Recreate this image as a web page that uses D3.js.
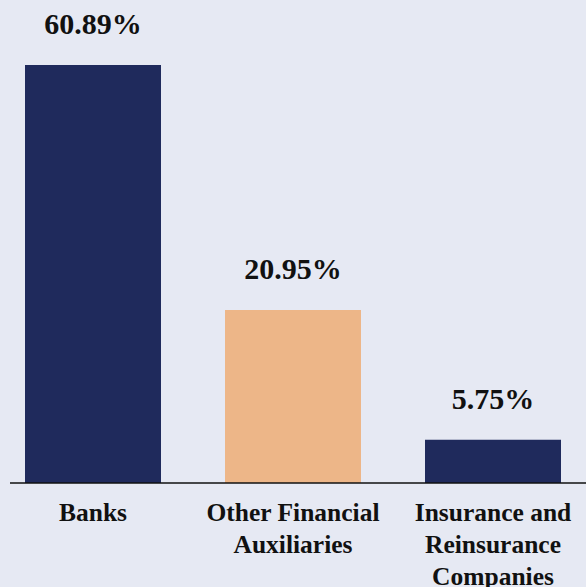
<!DOCTYPE html>
<html>
<head>
<meta charset="utf-8">
<script src="https://cdn.jsdelivr.net/npm/d3@7"></script>
<style>
  html, body { margin: 0; padding: 0; background: #e6e9f3; }
  svg { display: block; }
</style>
</head>
<body>
<svg id="chart" width="586" height="587"></svg>
<script>
// Data
const categories = ["Banks", "Other Financial Auxiliaries", "Insurance and Reinsurance Companies"];
const categoryLines = [["Banks"], ["Other Financial", "Auxiliaries"], ["Insurance and", "Reinsurance", "Companies"]];
const shareLabels = ["60.89%", "20.95%", "5.75%"];
// bar lengths as drawn in the picture (percent)
const barValues = [60.89, 25.2, 6.3];
const barColors = ["#1f2a5c", "#edb688", "#1f2a5c"];

const W = 586, H = 587;
const margin = { left: 10, right: 0, top: 65, bottom: 104 };
const baseY = H - margin.bottom;

const svg = d3.select("#chart");
svg.append("rect").attr("width", W).attr("height", H).attr("fill", "#e6e9f3");

const x = d3.scaleBand()
  .domain(categories)
  .range([0, W])
  .paddingInner(0.32)
  .paddingOuter(0.125);

const y = d3.scaleLinear()
  .domain([0, d3.max(barValues)])
  .range([baseY, margin.top]);

const data = categories.map((c, i) => ({ c, v: barValues[i], label: shareLabels[i], color: barColors[i], lines: categoryLines[i] }));

svg.append("g").selectAll("rect").data(data).join("rect")
  .attr("x", d => x(d.c))
  .attr("y", d => y(d.v))
  .attr("width", x.bandwidth())
  .attr("height", d => y(0) - y(d.v))
  .attr("fill", d => d.color);

svg.append("g").selectAll("text").data(data).join("text")
  .attr("x", d => x(d.c) + x.bandwidth() / 2)
  .attr("y", d => y(d.v) - 31)
  .attr("text-anchor", "middle")
  .attr("font-family", "'Liberation Serif', 'DejaVu Serif', serif")
  .attr("font-weight", "bold")
  .attr("font-size", 30)
  .attr("fill", "#111")
  .text(d => d.label);

// axis baseline
svg.append("line")
  .attr("x1", margin.left).attr("x2", W)
  .attr("y1", baseY).attr("y2", baseY)
  .attr("stroke", "#111").attr("stroke-width", 1.5);

// category labels
const lab = svg.append("g").selectAll("text").data(data).join("text")
  .attr("x", d => x(d.c) + x.bandwidth() / 2)
  .attr("y", baseY + 38)
  .attr("text-anchor", "middle")
  .attr("font-family", "'Liberation Serif', 'DejaVu Serif', serif")
  .attr("font-weight", "bold")
  .attr("font-size", 25.5)
  .attr("fill", "#111");
lab.selectAll("tspan").data(d => d.lines.map(t => ({ t, x: x(d.c) + x.bandwidth() / 2 }))).join("tspan")
  .attr("x", t => t.x)
  .attr("dy", (t, i) => i === 0 ? 0 : 32)
  .text(t => t.t);
</script>
</body>
</html>
